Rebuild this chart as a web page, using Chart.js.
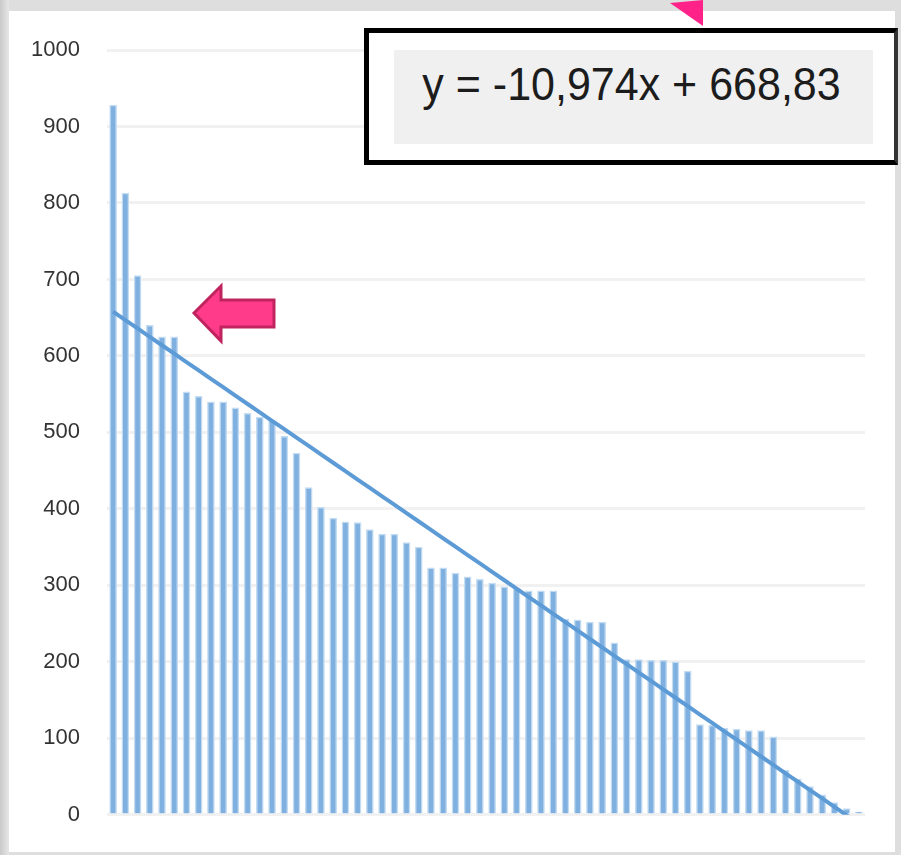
<!DOCTYPE html>
<html lang="es">
<head>
  <meta charset="UTF-8" />
  <title>Línea de tendencia</title>
  <script src="https://cdn.jsdelivr.net/npm/chart.js"></script>
  <style>
    html, body { margin: 0; padding: 0; }
    body {
      width: 901px; height: 855px; position: relative; overflow: hidden;
      background: #dedede;
      font-family: "Liberation Sans", Arial, sans-serif;
    }
    .borde-izq {
      position: absolute; left: 0; top: 0; width: 9px; height: 855px;
      background: linear-gradient(to right, #c9c9c9, #e6e6e6);
    }
    .panel {
      position: absolute; left: 9px; top: 11px; width: 886px; height: 841px;
      background: #fff;
    }
    #grafico { position: absolute; left: 0; top: 0; }
    .ecuacion {
      position: absolute; left: 364px; top: 28px; width: 534px; height: 137px;
      box-sizing: border-box; background: #fff;
      border: 5px solid #000; border-right: 4px solid #333;
    }
    .ecuacion .fondo {
      position: absolute; left: 25px; top: 17px; width: 479px; height: 94px;
      background: #f0f0f0;
    }
    .ecuacion .texto {
      position: absolute; left: 0; right: 4px; top: 13px;
      font-size: 43px; line-height: 43px; text-align: center; color: #1c1c1c;
      white-space: nowrap; transform: scaleY(1.08);
    }
    svg.flechas { position: absolute; left: 0; top: 0; }
  </style>
</head>
<body>
  <div class="borde-izq"></div>
  <div class="panel"></div>
  <canvas id="grafico" width="901" height="855"></canvas>

  <div class="ecuacion">
    <div class="fondo"><div class="texto">y = -10,974x + 668,83</div></div>
  </div>

  <svg class="flechas" width="901" height="855">
    <polygon points="670,3 703,0 703,26" fill="#ff2389" />
    <polygon points="194,313 221,286 221,300 274,300 274,327 221,327 221,341"
             fill="#ff3b8a" stroke="#c0245f" stroke-width="3" stroke-linejoin="miter" />
  </svg>

  <script>
    const categorias = [
      1, 2, 3, 4, 5, 6, 7, 8, 9, 10, 11, 12, 13, 14, 15, 16, 17, 18, 19, 20,
      21, 22, 23, 24, 25, 26, 27, 28, 29, 30, 31, 32, 33, 34, 35, 36, 37, 38, 39, 40,
      41, 42, 43, 44, 45, 46, 47, 48, 49, 50, 51, 52, 53, 54, 55, 56, 57, 58, 59, 60,
      61, 62
    ];

    const valores = [
      928, 813, 705, 640, 625, 625, 553, 547, 540, 540,
      532, 525, 520, 515, 495, 473, 428, 402, 388, 383,
      382, 373, 367, 367, 356, 350, 323, 323, 316, 311,
      308, 303, 298, 296, 293, 293, 293, 256, 255, 252,
      252, 225, 203, 203, 202, 202, 200, 188, 118, 117,
      113, 112, 110, 110, 102, 58, 47, 37, 26, 16,
      8, 4
    ];

    // coeficientes tal como los muestra la etiqueta de la tendencia
    const pendiente = -10.974;
    const intercepto = 668.83;

    const ticksY = [0, 100, 200, 300, 400, 500, 600, 700, 800, 900, 1000];

    const tendencia = categorias.map(x => pendiente * x + intercepto);

    new Chart(document.getElementById("grafico"), {
      type: "bar",
      data: {
        labels: categorias,
        datasets: [
          {
            type: "line",
            data: tendencia,
            borderColor: "#5d9bd6",
            borderWidth: 4,
            pointRadius: 0,
            tension: 0,
            order: 0
          },
          {
            data: valores,
            backgroundColor: "#7fb0df",
            borderColor: "#c4dcf2",
            borderWidth: 1.5,
            barThickness: 7,
            order: 1
          }
        ]
      },
      options: {
        responsive: false,
        devicePixelRatio: 1,
        animation: false,
        layout: { padding: { top: 50, right: 36, bottom: 40, left: 0 } },
        plugins: { legend: { display: false }, tooltip: { enabled: false } },
        scales: {
          x: { display: false },
          y: {
            min: 0,
            max: 1000,
            afterFit: s => { s.width = 107; },
            afterBuildTicks: s => { s.ticks = ticksY.map(v => ({ value: v })); },
            border: { display: false },
            grid: { color: "#f1f1f1", lineWidth: 3, drawTicks: false },
            ticks: {
              padding: 27,
              color: "#333",
              font: { family: "'Liberation Sans'", size: 22 },
              callback: v => String(v)
            }
          }
        }
      }
    });
  </script>
</body>
</html>
